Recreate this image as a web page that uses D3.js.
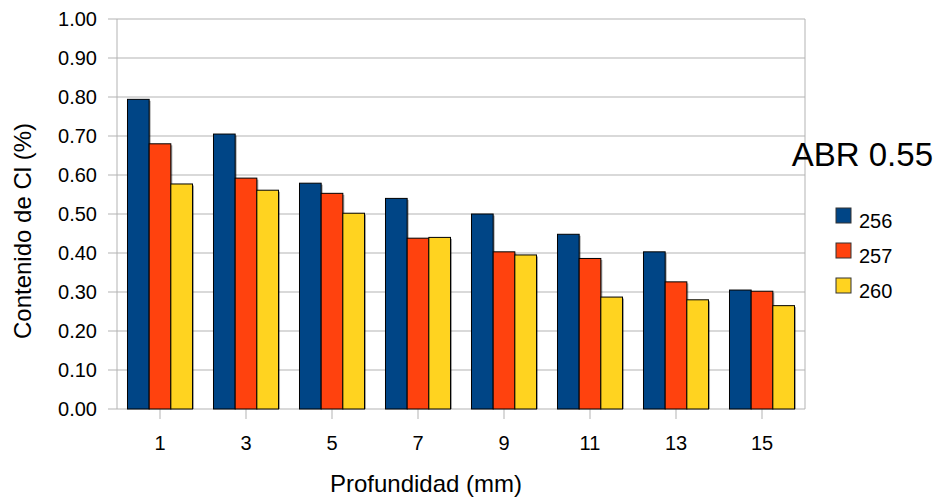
<!DOCTYPE html>
<html>
<head>
<meta charset="utf-8">
<script src="https://cdn.jsdelivr.net/npm/d3@7"></script>
<style>
  body { margin: 0; background: #fff; }
  svg text { font-family: "Liberation Sans", Arial, sans-serif; fill: #000; }
</style>
</head>
<body>
<svg id="chart" width="938" height="500"></svg>
<script>
// Chloride content by depth for three samples
const depths = ["1", "3", "5", "7", "9", "11", "13", "15"];
const seriesNames = ["256", "257", "260"];
const s256 = [0.794, 0.705, 0.579, 0.540, 0.500, 0.448, 0.403, 0.305];
const s257 = [0.680, 0.592, 0.553, 0.438, 0.403, 0.386, 0.326, 0.302];
const s260 = [0.577, 0.561, 0.502, 0.440, 0.395, 0.287, 0.280, 0.265];
const yTicks = [0, 0.1, 0.2, 0.3, 0.4, 0.5, 0.6, 0.7, 0.8, 0.9, 1.0];
const colors = ["#004586", "#ff420e", "#ffd320"];
const seriesValues = [s256, s257, s260];

const svg = d3.select("#chart");
const plotLeft = 117, plotRight = 805, plotTop = 19, plotBottom = 409;

const x = d3.scaleBand().domain(depths).range([plotLeft, plotRight]).paddingInner(0.244).paddingOuter(0.122);
const xs = d3.scaleBand().domain(seriesNames).range([0, x.bandwidth()]);
const y = d3.scaleLinear().domain([0, 1]).range([plotBottom, plotTop]);

// gridlines and left tick marks
svg.append("g").selectAll("line").data(yTicks).join("line")
  .attr("x1", plotLeft - 9).attr("x2", plotRight)
  .attr("y1", d => y(d)).attr("y2", d => y(d))
  .attr("stroke", "#b3b3b3").attr("stroke-width", 1);

// plot frame: left and right edges
svg.append("line").attr("x1", plotLeft).attr("x2", plotLeft).attr("y1", plotTop).attr("y2", plotBottom)
  .attr("stroke", "#b3b3b3");
svg.append("line").attr("x1", plotRight).attr("x2", plotRight).attr("y1", plotTop).attr("y2", plotBottom)
  .attr("stroke", "#b3b3b3");

// y tick labels
svg.append("g").selectAll("text").data(yTicks).join("text")
  .attr("x", 97).attr("y", d => y(d)).attr("dy", "0.36em")
  .attr("text-anchor", "end").attr("font-size", 20)
  .text(d => d3.format(".2f")(d));

// x ticks and labels
const xAxisG = svg.append("g");
xAxisG.selectAll("line").data(depths).join("line")
  .attr("x1", d => x(d) + x.bandwidth() / 2).attr("x2", d => x(d) + x.bandwidth() / 2)
  .attr("y1", plotBottom).attr("y2", plotBottom + 10)
  .attr("stroke", "#b3b3b3");
xAxisG.selectAll("text").data(depths).join("text")
  .attr("x", d => x(d) + x.bandwidth() / 2).attr("y", 450)
  .attr("text-anchor", "middle").attr("font-size", 20)
  .text(d => d);

// bars
const barData = [];
depths.forEach((d, i) => {
  seriesNames.forEach((s, j) => {
    barData.push({ depth: d, series: s, value: seriesValues[j][i], color: colors[j] });
  });
});
const bars = svg.append("g");
bars.selectAll("rect.shadow").data(barData).join("rect")
  .attr("class", "shadow")
  .attr("x", d => x(d.depth) + xs(d.series) + 1.5)
  .attr("y", d => y(d.value) + 1.5)
  .attr("width", xs.bandwidth())
  .attr("height", d => plotBottom - y(d.value) - 1.5)
  .attr("fill", "#000").attr("opacity", 0.35);
bars.selectAll("rect.bar").data(barData).join("rect")
  .attr("class", "bar")
  .attr("x", d => x(d.depth) + xs(d.series))
  .attr("y", d => y(d.value))
  .attr("width", xs.bandwidth())
  .attr("height", d => plotBottom - y(d.value))
  .attr("fill", d => d.color)
  .attr("stroke", "#000").attr("stroke-width", 1);

// axis titles
svg.append("text")
  .attr("transform", `translate(31, 231) rotate(-90)`)
  .attr("text-anchor", "middle").attr("font-size", 24)
  .text("Contenido de Cl (%)");
svg.append("text")
  .attr("x", 426).attr("y", 492)
  .attr("text-anchor", "middle").attr("font-size", 24)
  .text("Profundidad (mm)");

// title beside the plot
svg.append("text")
  .attr("x", 933).attr("y", 166)
  .attr("text-anchor", "end").attr("font-size", 33)
  .text("ABR 0.55");

// legend
const legend = svg.append("g");
seriesNames.forEach((s, j) => {
  const ly = 208 + j * 35;
  legend.append("rect").attr("x", 836).attr("y", ly)
    .attr("width", 15).attr("height", 15)
    .attr("fill", colors[j]).attr("stroke", "#333").attr("stroke-width", 1);
  legend.append("text").attr("x", 859).attr("y", ly + 20)
    .attr("font-size", 20).text(s);
});
</script>
</body>
</html>
